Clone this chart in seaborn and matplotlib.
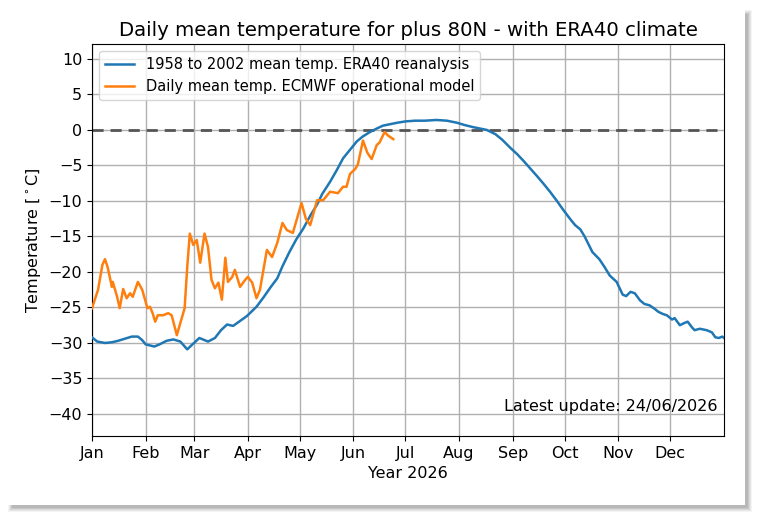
import pandas as pd
import numpy as np
import seaborn as sns
import matplotlib.pyplot as plt
from matplotlib.patches import Rectangle

# ERA40 climate 1958-2002 (day of year, deg C)
clim_day = [0, 3, 7.5, 11.5, 15, 19, 23, 26.5, 29, 31, 36, 39, 43, 47, 51, 55, 58, 62, 67, 71,
            74.5, 78, 81.5, 85.5, 89.5, 95, 99, 103, 107, 110, 114, 118, 122, 126, 130, 133,
            137.5, 141.5, 145, 149, 153, 156.5, 160.5, 164.5, 168, 172, 176, 181, 186.5, 192,
            199, 205, 211, 215, 220, 224, 228, 233, 237, 241.5, 245.5, 249, 253, 257, 260.5,
            264.5, 268.5, 272, 276, 279, 282, 284.5, 289, 293, 296, 299, 303, 306.5, 308.5,
            311, 313.5, 316.5, 319, 322, 325, 327, 329.5, 332, 335, 336.5, 339.5, 342, 344,
            346.5, 348, 351, 353, 355, 358, 360, 362, 364, 365]
clim_temp = [-29.2, -29.8, -30.0, -29.9, -29.7, -29.4, -29.1, -29.1, -29.6, -30.2, -30.5, -30.2,
             -29.7, -29.5, -29.8, -30.9, -30.2, -29.3, -29.8, -29.3, -28.2, -27.4, -27.6, -26.9,
             -26.2, -24.9, -23.6, -22.2, -20.9, -19.2, -17.2, -15.4, -13.9, -12.1, -10.5, -9.0,
             -7.3, -5.6, -4.0, -2.8, -1.6, -0.9, -0.3, 0.2, 0.6, 0.8, 1.0, 1.2, 1.3, 1.3,
             1.4, 1.3, 1.0, 0.7, 0.4, 0.2, 0.0, -0.6, -1.4, -2.5, -3.4, -4.3, -5.4, -6.5, -7.5,
             -8.7, -10.0, -11.2, -12.5, -13.4, -14.0, -15.0, -17.2, -18.2, -19.3, -20.5, -21.4,
             -23.2, -23.4, -22.8, -23.0, -24.0, -24.5, -24.7, -25.2, -25.6, -25.9, -26.1, -26.7,
             -26.5, -27.5, -27.2, -27.0, -27.8, -28.2, -28.0, -28.1, -28.2, -28.5, -29.2, -29.3,
             -29.1, -29.3]

# ECMWF operational model 2026
oper_day = [0, 3.5, 6, 7.5, 9, 11.5, 12, 14.5, 16, 18, 20, 22, 23.5, 26.5, 29, 32, 33.5, 35,
            36.5, 38, 41, 44, 46, 49, 51, 53.5, 55, 56.5, 58.5, 60.5, 62.5, 65, 67, 69, 71, 73,
            75, 77, 78.5, 81, 82.5, 85.5, 88.5, 90, 92.5, 95, 97, 101, 104, 107, 110, 112.5,
            116, 121, 123.5, 126, 130, 133.5, 137.5, 142, 145, 147, 149, 152, 153.5, 156.5,
            159, 161.5, 164.5, 166, 169, 171, 174]
oper_temp = [-25.1, -22.5, -19.0, -18.2, -19.3, -22.1, -21.4, -23.5, -25.1, -22.4, -23.7, -23.0,
             -23.5, -21.4, -22.5, -25.1, -24.9, -25.8, -27.0, -26.1, -26.1, -25.8, -26.1, -28.9,
             -27.2, -25.1, -19.3, -14.6, -16.2, -15.5, -18.7, -14.6, -16.5, -21.1, -22.3, -21.5,
             -23.9, -18.0, -21.4, -20.7, -19.7, -22.1, -21.1, -20.7, -21.5, -23.7, -22.5, -16.9,
             -17.9, -15.9, -13.1, -14.1, -14.5, -10.3, -12.5, -13.4, -9.9, -9.9, -8.7, -8.9,
             -8.0, -8.0, -6.2, -5.5, -4.9, -1.5, -3.2, -4.1, -2.1, -1.8, -0.3, -0.8, -1.3]

month_start = [0, 31, 59, 90, 120, 151, 181, 212, 243, 273, 304, 334]
month_names = ['Jan', 'Feb', 'Mar', 'Apr', 'May', 'Jun', 'Jul', 'Aug', 'Sep', 'Oct', 'Nov', 'Dec']

clim = pd.DataFrame({'day': clim_day, 'temp': clim_temp})
oper = pd.DataFrame({'day': oper_day, 'temp': oper_temp})

W, H = 758, 522
fig = plt.figure(figsize=(W / 100, H / 100), dpi=100)
ax = fig.add_axes([92 / W, 1 - 436 / H, 632 / W, 392 / H])

# drop shadow round the picture (soft, offset down and right)
for i, a in enumerate([0.08, 0.10, 0.13, 0.16, 0.20]):
    x0 = (8 + i) / W
    y0 = 1 - (512 - i) / H
    fig.patches.append(Rectangle((x0, y0), (752 - i) / W - x0, (1 - (10 + i) / H) - y0,
                                 transform=fig.transFigure, color='#7a7a7a', alpha=a,
                                 zorder=-3, lw=0))
fig.patches.append(Rectangle((0, 1 - 505 / H), 745 / W, 505 / H, transform=fig.transFigure,
                             color='white', zorder=-2, lw=0))

ax.axhline(0, color='#555555', linestyle='--', linewidth=2, dashes=(4, 2.5), zorder=1)
sns.lineplot(data=clim, x='day', y='temp', ax=ax, color='C0', linewidth=1.8,
             label='1958 to 2002 mean temp. ERA40 reanalysis', zorder=3)
sns.lineplot(data=oper, x='day', y='temp', ax=ax, color='C1', linewidth=1.8,
             label='Daily mean temp. ECMWF operational model', zorder=4)

ax.set_xlim(0, 365)
ax.set_ylim(-43.1, 12.1)
ax.set_xticks(month_start)
ax.set_xticklabels(month_names)
ax.set_yticks(np.arange(-40, 11, 5))
ax.tick_params(labelsize=11.5)
ax.grid(True, color='#b0b0b0', linewidth=1)
ax.set_axisbelow(True)
ax.set_title('Daily mean temperature for plus 80N - with ERA40 climate', fontsize=14.2)
ax.set_xlabel('Year 2026', fontsize=11.5)
ax.set_ylabel('Temperature [$^\\circ$C]', fontsize=11.5)
ax.text(0.99, 0.055, 'Latest update: 24/06/2026', transform=ax.transAxes,
        ha='right', va='bottom', fontsize=11.5)
ax.legend(loc='upper left', fontsize=10.5)

plt.savefig('out.png', dpi=100)
plt.close()
